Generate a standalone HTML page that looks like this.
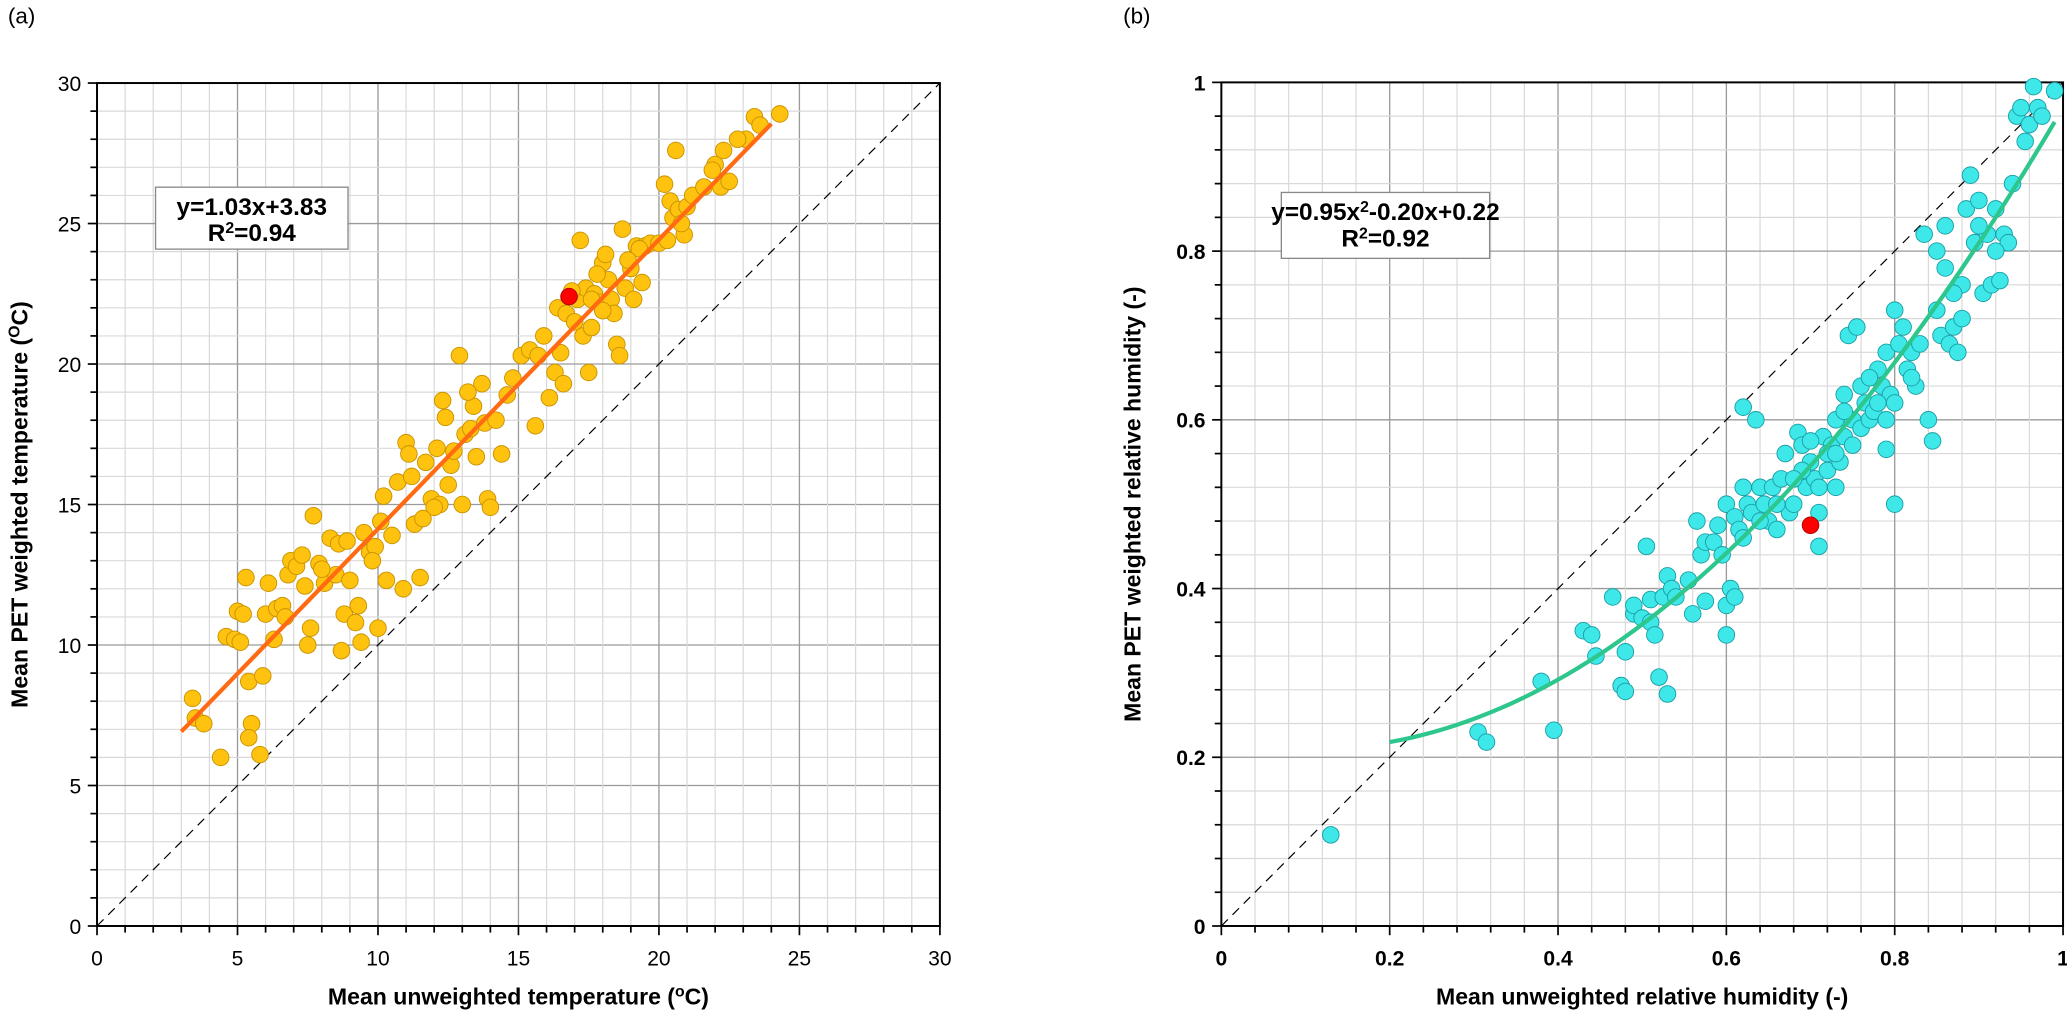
<!DOCTYPE html>
<html><head><meta charset="utf-8"><style>
html,body{margin:0;padding:0;background:#fff;}
svg{display:block;font-family:"Liberation Sans",Arial,sans-serif;}
</style></head><body>
<svg id="fig" width="2067" height="1018" viewBox="0 0 1568 772.3" preserveAspectRatio="none" xmlns="http://www.w3.org/2000/svg"></svg>
<script>
// Panel (a) data
const tempX=[3.4,3.5,3.8,4.4,4.6,4.9,5.0,5.1,5.2,5.3,5.4,5.5,5.4,5.8,5.9,6.0,6.1,6.3,6.4,6.6,6.8,6.9,7.1,7.3,7.4,7.5,7.6,7.7,7.9,8.1,8.3,8.5,8.6,8.7,8.8,8.9,9.0,9.2,9.3,9.4,9.5,9.7,9.9,10.0,10.1,10.3,10.5,10.7,10.9,11.0,11.1,11.2,11.3,11.5,11.7,11.9,12.1,12.2,12.3,12.4,12.5,12.6,12.7,12.9,13.0,13.1,13.3,13.4,13.5,13.7,13.8,13.9,14.0,14.2,14.4,14.6,15.1,15.4,15.6,15.7,15.9,16.1,16.3,16.4,16.5,16.6,16.7,17.0,17.1,17.2,17.3,17.4,17.5,17.6,17.7,17.9,18.0,18.1,18.2,18.3,18.4,18.5,18.6,18.7,18.8,19.0,19.1,19.2,19.4,19.5,19.7,20.0,20.2,20.3,20.4,20.5,20.6,20.7,20.9,21.0,21.2,21.6,22.0,22.2,22.3,22.5,23.1,23.4,23.6,24.3,17.6,18.0,16.9,14.8,12.0,9.8,8.0,6.7,13.2,10.2,11.6,19.3,20.8,21.9,22.8,18.9,17.8];
const tempY=[8.1,7.4,7.2,6.0,10.3,10.2,11.2,10.1,11.1,12.4,8.7,7.2,6.7,6.1,8.9,11.1,12.2,10.2,11.3,11.4,12.5,13.0,12.8,13.2,12.1,10.0,10.6,14.6,12.9,12.2,13.8,12.5,13.6,9.8,11.1,13.7,12.3,10.8,11.4,10.1,14.0,13.3,13.5,10.6,14.4,12.3,13.9,15.8,12.0,17.2,16.8,16.0,14.3,12.4,16.5,15.2,17.0,15.0,18.7,18.1,15.7,16.4,16.9,20.3,15.0,17.5,17.7,18.5,16.7,19.3,17.9,15.2,14.9,18.0,16.8,18.9,20.3,20.5,17.8,20.3,21.0,18.8,19.7,22.0,20.4,19.3,21.8,21.5,22.3,24.4,21.0,22.7,19.7,21.3,22.5,22.2,23.6,23.9,23.0,22.3,21.8,20.7,20.3,24.8,22.7,23.4,22.3,24.2,22.9,24.2,24.3,24.3,26.4,24.4,25.8,25.2,27.6,25.5,24.6,25.6,26.0,26.3,27.1,26.3,27.6,26.5,28.0,28.8,28.5,28.9,22.3,21.9,22.6,19.5,14.9,13.0,12.7,11.0,19.0,15.3,14.5,24.1,25.0,26.9,28.0,23.7,23.2];
const tempHighlight=[16.8,22.4];
const tempFit=[1.03,3.83]; const tempFitRange=[3,24];
const tempTicks=[0,5,10,15,20,25,30];
// Panel (b) data
const rhX=[0.13,0.305,0.315,0.38,0.395,0.43,0.44,0.445,0.465,0.475,0.48,0.48,0.49,0.49,0.5,0.505,0.51,0.51,0.515,0.52,0.525,0.53,0.53,0.535,0.54,0.555,0.56,0.565,0.57,0.575,0.575,0.585,0.59,0.595,0.6,0.6,0.6,0.605,0.61,0.61,0.615,0.62,0.62,0.625,0.63,0.635,0.64,0.645,0.65,0.655,0.66,0.665,0.67,0.675,0.68,0.685,0.69,0.695,0.7,0.705,0.71,0.71,0.715,0.72,0.725,0.73,0.735,0.74,0.74,0.745,0.75,0.755,0.76,0.765,0.77,0.775,0.78,0.785,0.79,0.79,0.795,0.8,0.8,0.805,0.81,0.815,0.82,0.825,0.83,0.835,0.84,0.845,0.85,0.85,0.855,0.86,0.865,0.87,0.875,0.88,0.88,0.885,0.89,0.895,0.9,0.905,0.91,0.915,0.92,0.925,0.93,0.935,0.94,0.945,0.95,0.955,0.96,0.965,0.97,0.975,0.99,0.72,0.73,0.69,0.76,0.78,0.8,0.75,0.74,0.7,0.68,0.66,0.64,0.62,0.77,0.82,0.79,0.71,0.73,0.86,0.9,0.92,0.87];
const rhY=[0.108,0.23,0.218,0.29,0.232,0.35,0.345,0.32,0.39,0.285,0.278,0.325,0.37,0.38,0.365,0.45,0.387,0.36,0.345,0.295,0.39,0.275,0.415,0.4,0.39,0.41,0.37,0.48,0.44,0.455,0.385,0.455,0.475,0.44,0.5,0.38,0.345,0.4,0.485,0.39,0.47,0.615,0.52,0.5,0.49,0.6,0.52,0.5,0.48,0.52,0.47,0.53,0.56,0.49,0.5,0.585,0.57,0.52,0.55,0.53,0.49,0.45,0.58,0.54,0.57,0.6,0.55,0.63,0.58,0.7,0.6,0.71,0.59,0.62,0.6,0.61,0.66,0.64,0.68,0.565,0.63,0.73,0.5,0.69,0.71,0.66,0.68,0.64,0.69,0.82,0.6,0.575,0.73,0.8,0.7,0.83,0.69,0.71,0.68,0.72,0.76,0.85,0.89,0.81,0.86,0.75,0.82,0.76,0.85,0.765,0.82,0.81,0.88,0.96,0.97,0.93,0.95,0.995,0.97,0.96,0.99,0.56,0.52,0.54,0.64,0.62,0.62,0.57,0.61,0.575,0.53,0.5,0.48,0.46,0.65,0.65,0.6,0.52,0.56,0.78,0.83,0.8,0.75];
const rhHighlight=[0.70,0.475];
const rhFit=[0.95,-0.20,0.22]; const rhFitRange=[0.2,0.99];
const rhTicks=[0,0.2,0.4,0.6,0.8,1];
const rhTickLabels=['0','0.2','0.4','0.6','0.8','1'];

const NS='http://www.w3.org/2000/svg';
const svg=document.getElementById('fig');
function mk(tag,attrs,parent,text){const e=document.createElementNS(NS,tag);for(const k in attrs)e.setAttribute(k,attrs[k]);if(text!==undefined)e.textContent=text;(parent||svg).appendChild(e);return e;}

function panel(o){
  const g=mk('g',{});
  
  
  const sx=v=>o.L+(v-o.min)/(o.max-o.min)*(o.R-o.L);
  const sy=v=>o.B-(v-o.min)/(o.max-o.min)*(o.B-o.T);
  const step=(o.max-o.min)/o.minorN;
  for(let i=0;i<=o.minorN;i++){
    const v=o.min+i*step; const major=i%5===0;
    const c=major?'#9a9a9a':'#d9d9d9';
    const gx=mk('line',{x1:sx(v),x2:sx(v),y1:o.T,y2:o.B,stroke:c,'stroke-width':major?1:0.9},g);
    
    const gy=mk('line',{x1:o.L,x2:o.R,y1:sy(v),y2:sy(v),stroke:c,'stroke-width':major?1:0.9},g);
    
    const tl=major?7:5;
    mk('line',{x1:sx(v),x2:sx(v),y1:o.B,y2:o.B+tl,stroke:'#000','stroke-width':1.3},g);
    mk('line',{x1:o.L-tl,x2:o.L,y1:sy(v),y2:sy(v),stroke:'#000','stroke-width':1.3},g);
  }
  const fr=mk('rect',{x:o.L,y:o.T,width:o.R-o.L,height:o.B-o.T,fill:'none',stroke:'#000','stroke-width':1.5},g);
  
  o.ticks.forEach((v,i)=>{
    const lab=o.tickLabels?o.tickLabels[i]:String(v);
    const tx=mk('text',{x:sx(v),y:o.B+30,'text-anchor':'middle','font-size':o.tickFS,'font-weight':o.tickW},g,lab);
    
    const ty=mk('text',{x:o.L-12,y:sy(v)+6,'text-anchor':'end','font-size':o.tickFS,'font-weight':o.tickW},g,lab);
    
  });
  const d=mk('line',{x1:sx(o.min),y1:sy(o.min),x2:sx(o.max),y2:sy(o.max),stroke:'#000','stroke-width':0.9,'stroke-dasharray':'7,5'},g);
  
  o.xs.forEach((x,i)=>{
    const c=mk('circle',{cx:sx(x),cy:sy(o.ys[i]),r:6.3,fill:o.fill,stroke:o.stroke,'stroke-width':0.7},g);
    
  });
  let p='';const n=60;
  for(let i=0;i<=n;i++){const x=o.fitRange[0]+(o.fitRange[1]-o.fitRange[0])*i/n;p+=(i?'L':'M')+sx(x).toFixed(2)+','+sy(o.fitFn(x)).toFixed(2);}
  const fl=mk('path',{d:p,fill:'none',stroke:o.fitColor,'stroke-width':3.2},g);
  
  const h=mk('circle',{cx:sx(o.hl[0]),cy:sy(o.hl[1]),r:6.3,fill:'#ff0000',stroke:'#b00000','stroke-width':0.7},g);
  
  const b=mk('rect',{x:o.box[0],y:o.box[1],width:o.box[2],height:o.box[3],fill:'#fff',stroke:'#888','stroke-width':1},g);
  
  const cx=o.box[0]+o.box[2]/2;
  const e1=mk('text',{x:cx,y:o.box[1]+21,'text-anchor':'middle','font-size':18.5,'font-weight':'bold'},g);
  e1.innerHTML=o.eq;
  const e2=mk('text',{x:cx,y:o.box[1]+41,'text-anchor':'middle','font-size':18.5,'font-weight':'bold'},g);
  e2.innerHTML=o.r2;
  const xt=mk('text',{x:(o.L+o.R)/2,y:762,'text-anchor':'middle','font-size':17.5,'font-weight':'bold'},g);
  xt.innerHTML=o.xtitle;
  const yt=mk('text',{x:0,y:0,'text-anchor':'middle','font-size':17.5,'font-weight':'bold',transform:'translate('+o.ytx+','+((o.T+o.B)/2)+') rotate(-90)'},g);
  yt.innerHTML=o.ytitle;
  const pl=mk('text',{x:o.plx,y:18,'font-size':17},g,o.pl);
  
}

panel({name:'panel-a-temperature',L:73.6,R:713,T:63,B:702.5,min:0,max:30,minorN:30,ticks:tempTicks,tickFS:16,tickW:'normal',
  xs:tempX,ys:tempY,fill:'#FFC20E',stroke:'#C89200',fitColor:'#FF6A13',fitRange:tempFitRange,fitFn:x=>tempFit[0]*x+tempFit[1],hl:tempHighlight,
  box:[118,142,146,47],eq:'y=1.03x+3.83',r2:'R<tspan baseline-shift="super" font-size="12">2</tspan>=0.94',
  xtitle:'Mean unweighted temperature (<tspan baseline-shift="super" font-size="12">o</tspan>C)',ytitle:'Mean PET weighted temperature (<tspan baseline-shift="super" font-size="12">O</tspan>C)',ytx:21,pl:'(a)',plx:6});
panel({name:'panel-b-humidity',L:926.5,R:1565,T:62.5,B:702.5,min:0,max:1,minorN:25,ticks:rhTicks,tickLabels:rhTickLabels,tickFS:16,tickW:'bold',
  xs:rhX,ys:rhY,fill:'#3EE8E8',stroke:'#1A9FA6',fitColor:'#2DC78E',fitRange:rhFitRange,fitFn:x=>rhFit[0]*x*x+rhFit[1]*x+rhFit[2],hl:rhHighlight,
  box:[972,146,158,50],eq:'y=0.95x<tspan baseline-shift="super" font-size="12">2</tspan>-0.20x+0.22',r2:'R<tspan baseline-shift="super" font-size="12">2</tspan>=0.92',
  xtitle:'Mean unweighted relative humidity (-)',ytitle:'Mean PET weighted relative humidity (-)',ytx:865,pl:'(b)',plx:852});
</script>
</body></html>
